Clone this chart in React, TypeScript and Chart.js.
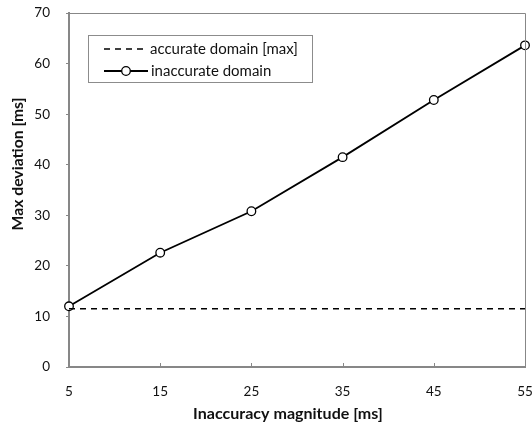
import React, { useEffect, useRef } from "react";
import { Chart, registerables } from "chart.js";

Chart.register(...registerables);

const xValues = [5, 15, 25, 35, 45, 55];
const inaccurateValues = [12.0, 22.6, 30.8, 41.5, 52.8, 63.6];
const accurateX = [5, 55];
const accurateMax = [11.5, 11.5];
const xTickValues = [5, 15, 25, 35, 45, 55];
const seriesLabels = ["accurate domain [max]", "inaccurate domain"];
const xTitle = "Inaccuracy magnitude [ms]";
const yTitle = "Max deviation [ms]";

const FONT = "Lato, 'Open Sans', sans-serif";
const AXIS_GRAY = "#878787";

function fitSize(ctx: CanvasRenderingContext2D, text: string, weight: string, target: number) {
  ctx.font = `${weight} 14px ${FONT}`;
  const w = ctx.measureText(text).width;
  return (14 * target) / w;
}

const framePlugin = {
  id: "frame",
  afterDatasetsDraw(chart: any) {
    const { ctx, chartArea } = chart;
    const { left, right, top, bottom } = chartArea;
    ctx.save();
    ctx.strokeStyle = AXIS_GRAY;
    ctx.lineWidth = 1;
    ctx.beginPath();
    ctx.moveTo(left, top + 0.5);
    ctx.lineTo(right + 0.5, top + 0.5);
    ctx.lineTo(right + 0.5, bottom);
    ctx.stroke();
    const xs = chart.scales.x;
    ctx.beginPath();
    xs.ticks.forEach((t: any) => {
      const px = Math.round(xs.getPixelForValue(t.value)) + 0.5;
      ctx.moveTo(px, bottom);
      ctx.lineTo(px, bottom - 4);
    });
    ctx.stroke();
    ctx.restore();
  },
};

const titlePlugin = {
  id: "axisTitles",
  afterDraw(chart: any) {
    const { ctx, chartArea } = chart;
    ctx.save();
    ctx.fillStyle = "#111";
    ctx.textAlign = "center";
    ctx.textBaseline = "middle";
    const sx = fitSize(ctx, xTitle, "bold", 190);
    ctx.font = `bold ${sx}px ${FONT}`;
    ctx.fillText(xTitle, (chartArea.left + chartArea.right) / 2 - 9, 414);
    const sy = fitSize(ctx, yTitle, "bold", 133);
    ctx.font = `bold ${sy}px ${FONT}`;
    ctx.translate(18, (chartArea.top + chartArea.bottom) / 2 - 26);
    ctx.rotate(-Math.PI / 2);
    ctx.fillText(yTitle, 0, 0);
    ctx.restore();
  },
};

const legendPlugin = {
  id: "boxLegend",
  afterDraw(chart: any) {
    const { ctx, chartArea } = chart;
    const x0 = chartArea.left + 19;
    const y0 = chartArea.top + 22;
    const w = 224;
    const h = 47;
    ctx.save();
    ctx.fillStyle = "#fff";
    ctx.fillRect(x0, y0, w, h);
    ctx.strokeStyle = "#8c8c8c";
    ctx.lineWidth = 1;
    ctx.strokeRect(x0 + 0.5, y0 + 0.5, w, h);
    const ds = chart.data.datasets;
    const fs = fitSize(ctx, ds[0].label, "normal", 148);
    // row 1 dashed
    let ry = y0 + 14;
    ctx.strokeStyle = "#000";
    ctx.lineWidth = 1.5;
    ctx.setLineDash([6, 5]);
    ctx.beginPath();
    ctx.moveTo(x0 + 16, ry);
    ctx.lineTo(x0 + 60, ry);
    ctx.stroke();
    ctx.setLineDash([]);
    ctx.fillStyle = "#111";
    ctx.font = `${fs}px ${FONT}`;
    ctx.textBaseline = "middle";
    ctx.textAlign = "left";
    ctx.fillText(ds[0].label, x0 + 62, ry);
    // row 2 solid with circle
    ry = y0 + 36;
    ctx.lineWidth = 1.8;
    ctx.beginPath();
    ctx.moveTo(x0 + 16, ry);
    ctx.lineTo(x0 + 60, ry);
    ctx.stroke();
    ctx.beginPath();
    ctx.arc(x0 + 38, ry, 4.3, 0, Math.PI * 2);
    ctx.fillStyle = "#fff";
    ctx.fill();
    ctx.lineWidth = 1.3;
    ctx.stroke();
    ctx.fillStyle = "#111";
    ctx.fillText(ds[1].label, x0 + 63, ry);
    ctx.restore();
  },
};

const zeroPadding = (s: any) => {
  s.paddingLeft = 0;
  s.paddingRight = 0;
  s.paddingTop = 0;
  s.paddingBottom = 0;
};

export default function App() {
  const ref = useRef<HTMLCanvasElement | null>(null);
  useEffect(() => {
    document.body.style.margin = "0";
    const canvas = ref.current;
    if (!canvas) return;
    const chart = new Chart(canvas, {
      type: "line",
      data: {
        datasets: [
          {
            label: seriesLabels[0],
            data: accurateX.map((x, i) => ({ x, y: accurateMax[i] })),
            borderColor: "#000",
            borderWidth: 1.5,
            borderDash: [6, 5],
            pointRadius: 0,
            fill: false,
            clip: false as any,
          },
          {
            label: seriesLabels[1],
            data: xValues.map((x, i) => ({ x, y: inaccurateValues[i] })),
            borderColor: "#000",
            borderWidth: 1.8,
            pointRadius: 4.3,
            pointBorderWidth: 1.3,
            pointBackgroundColor: "#fff",
            pointBorderColor: "#000",
            fill: false,
            clip: false as any,
          },
        ],
      },
      options: {
        animation: false,
        responsive: false,
        layout: { padding: { top: 13, right: 7, left: 0, bottom: 0 } },
        plugins: {
          legend: { display: false },
          tooltip: { enabled: false },
        },
        scales: {
          x: {
            type: "linear",
            min: 5,
            max: 55,
            afterBuildTicks: (s: any) => {
              s.ticks = xTickValues.map((v) => ({ value: v }));
            },
            afterFit: (s: any) => {
              s.height = 61;
              zeroPadding(s);
            },
            grid: { display: false, drawTicks: false },
            border: { display: true, color: AXIS_GRAY, width: 2 },
            ticks: {
              color: "#111",
              font: { family: FONT, size: 13.5 },
              padding: 17,
              maxRotation: 0,
              autoSkip: false,
            },
            title: { display: false },
          },
          y: {
            type: "linear",
            min: 0,
            max: 70,
            afterFit: (s: any) => {
              s.width = 69;
              zeroPadding(s);
            },
            grid: {
              display: true,
              drawOnChartArea: false,
              drawTicks: true,
              tickLength: 3,
              color: AXIS_GRAY,
            },
            border: { display: true, color: AXIS_GRAY, width: 2 },
            ticks: {
              stepSize: 10,
              color: "#111",
              font: { family: FONT, size: 13.5 },
              padding: 16,
            },
            title: { display: false },
          },
        },
      },
      plugins: [framePlugin, titlePlugin, legendPlugin],
    });
    return () => chart.destroy();
  }, []);
  return (
    <div style={{ position: "absolute", left: 0, top: 0, width: 532, height: 428 }}>
      <canvas ref={ref} width={532} height={428} />
    </div>
  );
}
